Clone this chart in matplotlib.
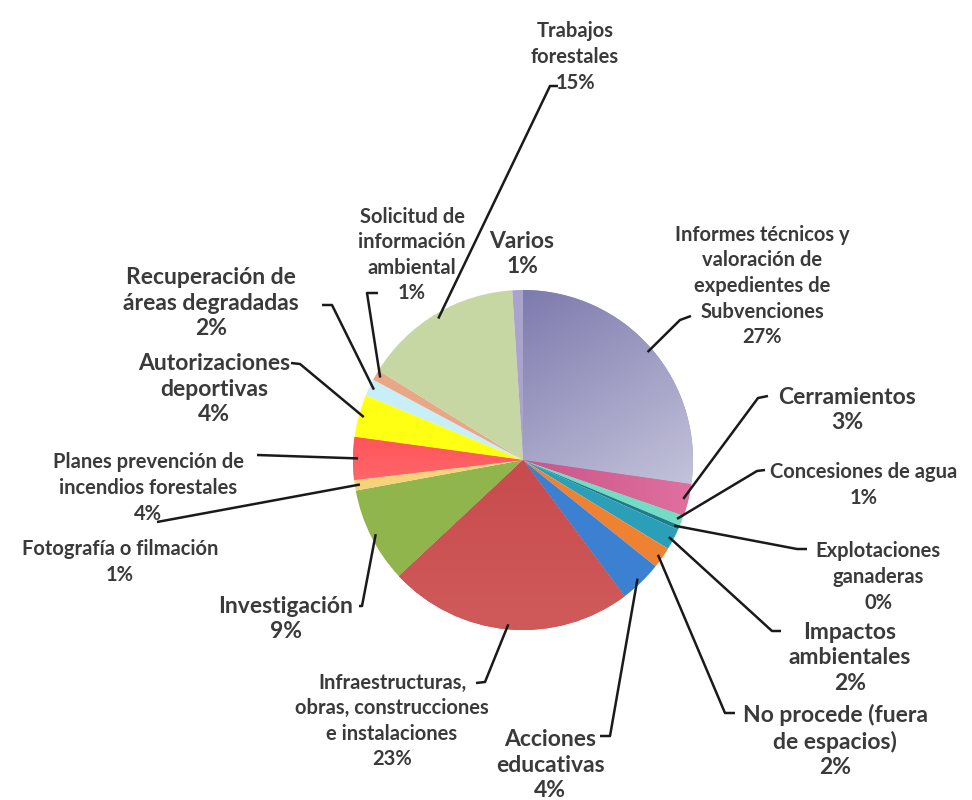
import numpy as np
import matplotlib.pyplot as plt
from matplotlib.colors import LinearSegmentedColormap

# ─── Datos ───────────────────────────────────────────────────────────────────

categorias = [
    'Informes técnicos y\nvaloración de\nexpedientes de\nSubvenciones',
    'Cerramientos',
    'Concesiones de agua',
    'Explotaciones\nganaderas',
    'Impactos\nambientales',
    'No procede (fuera\nde espacios)',
    'Acciones\neducativas',
    'Infraestructuras,\nobras, construcciones\ne instalaciones',
    'Investigación',
    'Fotografía o filmación',
    'Planes prevención de\nincendios forestales',
    'Autorizaciones\ndeportivas',
    'Recuperación de\náreas degradadas',
    'Solicitud de\ninformación\nambiental',
    'Trabajos\nforestales',
    'Varios',
]
porcentajes = [27, 3, 1, 0.4, 2, 2, 4, 23, 9, 1, 4, 4, 1.6, 1, 15, 1]

colores = ['#8f8cbc', '#c64a80', '#72dcc4', '#1c7c8c', '#2c9fb8', '#ee8232',
           '#3c80d2', '#c8484b', '#8fb54c', '#f6d27a', '#ff5050', '#ffff14',
           '#c8eef8', '#e8a888', '#c6d7a4', '#aaa4cc']

# ─── Layout (pixels, y para baixo) ───────────────────────────────────────────
W, H = 972, 800
cx, cy, raio = 523, 460, 170

GR, PQ = 16.5, 14.5   # tamanhos de fonte: grande / pequeno

# texto: (x, y, tamanho), cotovelo e ponta da linha (None = sem linha)
rotulos = [
    ((762, 286, PQ), (680, 320), (691, 316)),
    ((847, 410, GR), (758, 398), (768, 396)),
    ((864, 485, PQ), (757, 471), (765, 470)),
    ((878, 577, PQ), (797, 549), (807, 549)),
    ((850, 658, GR), (772, 631), (781, 631)),
    ((835, 741, GR), (725, 713), (735, 713)),
    ((550, 765, GR), (610, 736), (600, 736)),
    ((392, 721, PQ), (485, 682), (476, 683)),
    ((286, 619, GR), (362, 606), (359, 606)),
    ((120, 562, PQ), (157, 522), None),
    ((148, 488, PQ), (257, 455), None),
    ((214, 389, GR), (300, 364), (291, 363)),
    ((211, 303, GR), (332, 305), (322, 305)),
    ((412, 255, PQ), (367, 293), (378, 293)),
    ((575, 57, PQ), (550, 86), (558, 86)),
    ((522, 254, GR), None, None),
]

cor_texto = '#3a3a3a'
plt.rcParams['font.family'] = ['Lato', 'DejaVu Sans']

fig = plt.figure(figsize=(W / 100, H / 100), dpi=100)
ax = fig.add_axes([0, 0, 1, 1])

wedges, _ = ax.pie(porcentajes, colors=colores, startangle=90, counterclock=False,
                   center=(cx, H - cy), radius=raio,
                   wedgeprops=dict(linewidth=0))

# gradientes estilo Excel
def gradiente(wedge, c1, c2, direcao):
    n = 200
    xs = np.linspace(0, 1, n)
    gx, gy = np.meshgrid(xs, xs)
    dx, dy = direcao
    z = gx * dx + gy * dy
    z = (z - z.min()) / (z.max() - z.min())
    cmap = LinearSegmentedColormap.from_list('g', [c1, c2])
    im = ax.imshow(z, cmap=cmap, origin='lower', zorder=2,
                   extent=(cx - raio, cx + raio, H - cy - raio, H - cy + raio))
    im.set_clip_path(wedge)

gradiente(wedges[0], '#66629f', '#e6e6f0', (0.6, -1.0))
gradiente(wedges[1], '#b03c70', '#e070a0', (1.0, 0.0))
gradiente(wedges[10], '#ff1c1c', '#ffa0a8', (0.0, -1.0))
gradiente(wedges[7], '#c03c40', '#d05a5a', (0.0, -1.0))

for w, cat, val, (txt, cot, ponta) in zip(wedges, categorias, porcentajes, rotulos):
    tx, ty, fs = txt
    ax.text(tx, H - ty, f'{cat}\n{round(val)}%', ha='center', va='center',
            fontsize=fs, fontweight='bold', color=cor_texto,
            linespacing=1.25 if fs == GR else 1.35, zorder=5)
    if cot is None:
        continue
    ang = np.deg2rad((w.theta1 + w.theta2) / 2)
    px = cx + raio * np.cos(ang) * 0.97
    py = H - cy + raio * np.sin(ang) * 0.97
    xs = [px, cot[0]]
    ys = [py, H - cot[1]]
    if ponta is not None:
        xs.append(ponta[0])
        ys.append(H - ponta[1])
    ax.plot(xs, ys, color='#1a1a1a', lw=1.8, zorder=4, solid_capstyle='butt')

ax.set_xlim(0, W)
ax.set_ylim(0, H)
ax.set_aspect('equal')
ax.axis('off')

fig.savefig('out.png', dpi=100, facecolor='white')
